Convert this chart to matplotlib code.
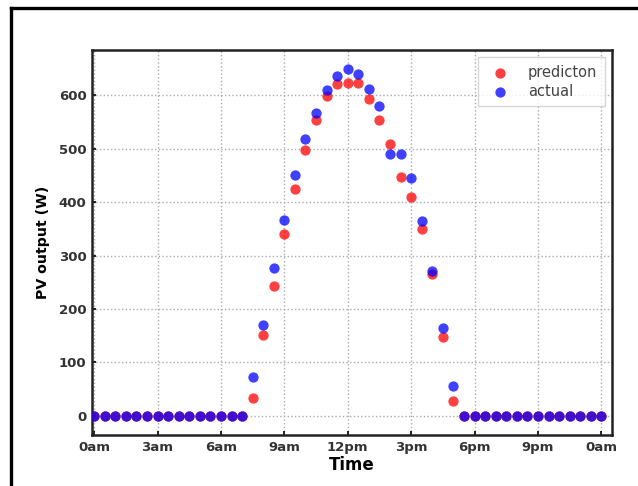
import matplotlib.pyplot as plt
from matplotlib.lines import Line2D

# time of day in hours, half-hour steps
hours = [0, 0.5, 1, 1.5, 2, 2.5, 3, 3.5, 4, 4.5, 5, 5.5, 6, 6.5, 7, 7.5,
         8, 8.5, 9, 9.5, 10, 10.5, 11, 11.5, 12, 12.5, 13, 13.5, 14, 14.5,
         15, 15.5, 16, 16.5, 17, 17.5, 18, 18.5, 19, 19.5, 20, 20.5, 21,
         21.5, 22, 22.5, 23, 23.5, 24]

prediction = [0, 0, 0, 0, 0, 0, 0, 0, 0, 0, 0, 0, 0, 0, 0, 33,
              151, 244, 340, 424, 498, 554, 599, 621, 623, 624, 594, 555, 510, 448,
              410, 349, 265, 148, 28, 0, 0, 0, 0, 0, 0, 0, 0,
              0, 0, 0, 0, 0, 0]

actual = [0, 0, 0, 0, 0, 0, 0, 0, 0, 0, 0, 0, 0, 0, 0, 73,
          171, 276, 367, 451, 519, 567, 611, 637, 649, 641, 613, 581, 491, 491,
          445, 365, 271, 164, 56, 0, 0, 0, 0, 0, 0, 0, 0,
          0, 0, 0, 0, 0, 0]

tick_hours = [0, 3, 6, 9, 12, 15, 18, 21, 24]
tick_labels = ['0am', '3am', '6am', '9am', '12pm', '3pm', '6pm', '9pm', '0am']

fig = plt.figure(figsize=(6.38, 4.86), dpi=100)
ax = fig.add_axes([0.1442, 0.1049, 0.815, 0.792])

ax.scatter(hours, prediction, s=55, color='red', alpha=0.75, lw=0, label='predicton', zorder=3)
ax.scatter(hours, actual, s=55, color='blue', alpha=0.75, lw=0, label='actual', zorder=4)

ax.set_xlim(-0.1, 24.5)
ax.set_ylim(-36, 685)
ax.set_xticks(tick_hours)
ax.set_xticklabels(tick_labels)
ax.set_yticks([0, 100, 200, 300, 400, 500, 600])
ax.tick_params(direction='in', length=3, width=1.2, labelsize=9.5, pad=4)
for lbl in ax.get_xticklabels() + ax.get_yticklabels():
    lbl.set_fontweight('bold')
    lbl.set_color('#333333')

ax.set_xlabel('Time', fontsize=12, fontweight='bold', labelpad=2)
ax.set_ylabel('PV output (W)', fontsize=10.2, fontweight='bold', labelpad=6)

ax.grid(True, linestyle=':', color='#aaaaaa', lw=1, zorder=1)
for sp in ax.spines.values():
    sp.set_linewidth(1.8)
    sp.set_color('#222222')

leg = ax.legend(loc='upper right', fontsize=10.5, handletextpad=0.9, borderpad=0.5,
                labelspacing=0.3, framealpha=0.8, edgecolor='#cccccc', fancybox=False)
for t in leg.get_texts():
    t.set_color('#444444')

# outer frame (top and left edges visible)
fig.add_artist(Line2D([11 / 638, 1.0], [1 - 8.5 / 486, 1 - 8.5 / 486],
                      transform=fig.transFigure, color='black', lw=2.4))
fig.add_artist(Line2D([11 / 638, 11 / 638], [0, 1 - 8.5 / 486],
                      transform=fig.transFigure, color='black', lw=2.4))

fig.savefig('out.png', dpi=100)
